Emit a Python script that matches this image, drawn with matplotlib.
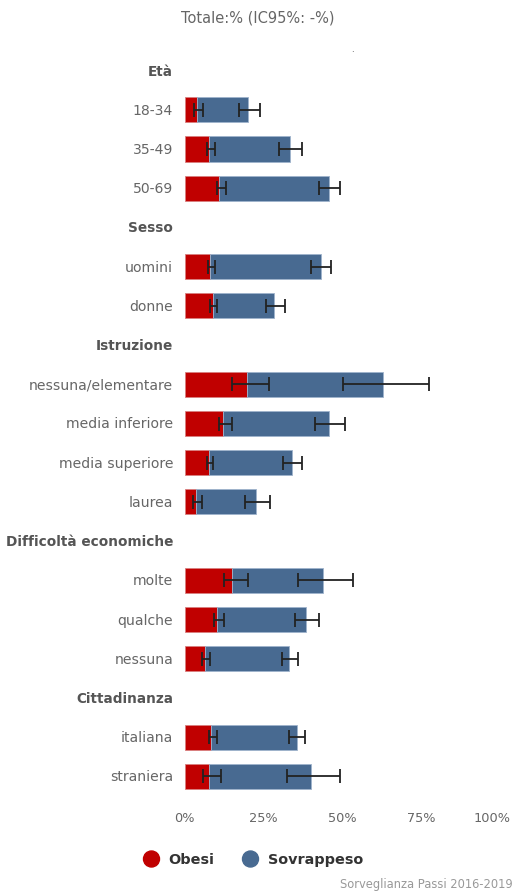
import numpy as np
import matplotlib
matplotlib.use('Agg')
import matplotlib.pyplot as plt
from matplotlib.patches import Ellipse
from matplotlib.transforms import ScaledTranslation

# ── colours ───────────────────────────────────────────────────────────
RED   = '#C00000'
BLUE  = '#486A91'
TXT   = '#666666'
HEAD  = '#555555'
DARK  = '#333333'

plt.rcParams['font.family'] = 'DejaVu Sans'

# ── data (percent) ────────────────────────────────────────────────────
rows = ['Età', '18-34', '35-49', '50-69',
        'Sesso', 'uomini', 'donne',
        'Istruzione', 'nessuna/elementare', 'media inferiore', 'media superiore', 'laurea',
        'Difficoltà economiche', 'molte', 'qualche', 'nessuna',
        'Cittadinanza', 'italiana', 'straniera']
headers = ['Età', 'Sesso', 'Istruzione', 'Difficoltà economiche', 'Cittadinanza']

categories = ['18-34', '35-49', '50-69', 'uomini', 'donne',
              'nessuna/elementare', 'media inferiore', 'media superiore', 'laurea',
              'molte', 'qualche', 'nessuna', 'italiana', 'straniera']

obesi    = [4.0, 7.8, 11.0, 8.2, 8.9, 19.8, 12.3, 7.8, 3.5, 15.1, 10.3, 6.5, 8.5, 7.8]
obesi_lo = [3.1, 7.0, 10.4, 7.4, 8.1, 14.9, 10.8, 7.0, 2.8, 12.4, 9.2, 5.6, 7.8, 5.8]
obesi_hi = [5.9, 9.7, 13.0, 9.7, 10.4, 26.6, 15.0, 9.1, 5.5, 20.1, 12.5, 8.1, 10.2, 11.5]

sovrappeso    = [16.2, 25.7, 34.6, 34.9, 19.5, 42.9, 33.3, 26.1, 19.1, 28.7, 28.1, 26.5, 27.0, 32.3]
sovrappeso_lo = [13.2, 22.2, 31.5, 31.7, 16.9, 30.3, 29.0, 23.5, 15.7, 20.7, 24.7, 24.3, 24.7, 24.6]
sovrappeso_hi = [20.0, 29.4, 38.3, 38.2, 22.9, 57.5, 38.6, 29.3, 23.6, 38.3, 32.3, 29.5, 29.5, 41.4]

xticks = [0, 25, 50, 75, 100]

# ── figure ────────────────────────────────────────────────────────────
fig = plt.figure(figsize=(5.15, 8.95), dpi=100)
ax = fig.add_axes([184.5 / 515, 1 - 797 / 895, 316 / 515, 745 / 895])

ypos = {name: i for i, name in enumerate(rows)}
y = np.array([ypos[c] for c in categories])
ob = np.array(obesi)
sv = np.array(sovrappeso)

bh = 0.64
ax.barh(y, ob, height=bh, color=RED, edgecolor='#D98080', linewidth=0.6, zorder=2)
ax.barh(y, sv, left=ob, height=bh, color=BLUE, edgecolor='#9FB3CC', linewidth=0.6, zorder=2)

# error bars at the end of each segment
ob_err = [ob - np.array(obesi_lo), np.array(obesi_hi) - ob]
sv_err = [sv - np.array(sovrappeso_lo), np.array(sovrappeso_hi) - sv]
ekw = dict(fmt='none', ecolor='#222222', elinewidth=1.3, capsize=4.7, capthick=1.3, zorder=3)
ax.errorbar(ob, y, xerr=ob_err, **ekw)
ax.errorbar(ob + sv, y, xerr=sv_err, **ekw)

ax.set_xlim(0, 100)
ax.set_ylim(len(rows) - 0.5, -0.5)
ax.set_xticks(xticks)
ax.set_xticklabels([f'{t}%' for t in xticks], color=TXT, fontsize=9.3)
ax.tick_params(axis='x', length=0, pad=11)
# keep the last label inside the canvas
last = ax.get_xticklabels()[-1]
last.set_transform(last.get_transform() + ScaledTranslation(-8 / 100, 0, fig.dpi_scale_trans))
ax.set_yticks([])
for s in ax.spines.values():
    s.set_visible(False)

# row labels
for name, i in ypos.items():
    bold = name in headers
    ax.text(-3.6, i, name, ha='right', va='center',
            fontsize=9.8 if bold else 10.1, color=HEAD if bold else TXT,
            fontweight='bold' if bold else 'normal')

fig.text(0.5, 1 - 18 / 895, 'Totale:% (IC95%: -%)', ha='center', va='center',
         fontsize=10.5, color=TXT)
fig.text(352 / 515, 1 - 50 / 895, '.', ha='center', va='center', fontsize=6, color=DARK)

# legend
ly = 1 - 860 / 895
fig.patches.append(Ellipse((151.5 / 515, ly), 16 / 515, 16 / 895,
                           transform=fig.transFigure, color=RED))
fig.text(168 / 515, ly, 'Obesi', ha='left', va='center', fontsize=10.4,
         fontweight='bold', color=DARK)
fig.patches.append(Ellipse((250.5 / 515, ly), 16 / 515, 16 / 895,
                           transform=fig.transFigure, color=BLUE))
fig.text(268 / 515, ly, 'Sovrappeso', ha='left', va='center', fontsize=10.4,
         fontweight='bold', color=DARK)

fig.text(513 / 515, 1 - 885 / 895, 'Sorveglianza Passi 2016-2019', ha='right', va='center',
         fontsize=8.3, color='#999999')

fig.savefig('out.png', dpi=100)
